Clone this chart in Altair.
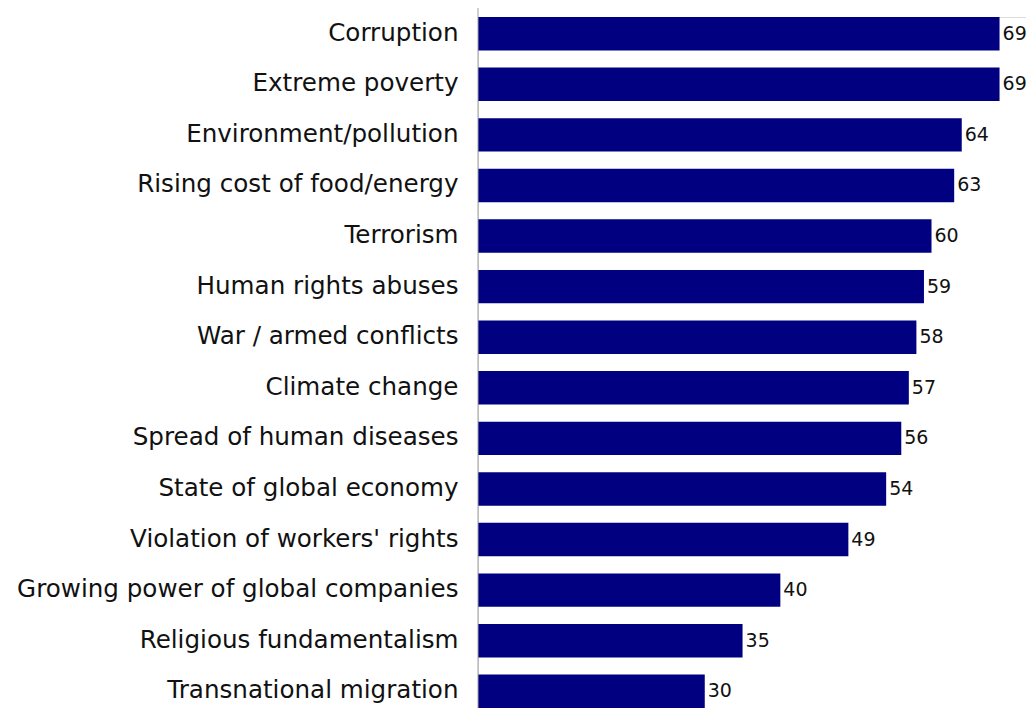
import altair as alt
import pandas as pd

categories = [
    "Corruption",
    "Extreme poverty",
    "Environment/pollution",
    "Rising cost of food/energy",
    "Terrorism",
    "Human rights abuses",
    "War / armed conflicts",
    "Climate change",
    "Spread of human diseases",
    "State of global economy",
    "Violation of workers' rights",
    "Growing power of global companies",
    "Religious fundamentalism",
    "Transnational migration",
]
values = [69, 69, 64, 63, 60, 59, 58, 57, 56, 54, 49, 40, 35, 30]

df = pd.DataFrame({"category": categories, "value": values})

W = 548
H = 691
FONT = "DejaVu Sans"

y_enc = alt.Y(
    "category:N",
    sort=categories,
    scale=alt.Scale(paddingInner=0.34, paddingOuter=0),
    axis=alt.Axis(
        title=None,
        domain=False,
        ticks=False,
        grid=False,
        labelFont=FONT,
        labelFontSize=24.6,
        labelColor="#111111",
        labelPadding=20,
        labelLimit=0,
    ),
)
x_enc = alt.X(
    "value:Q",
    scale=alt.Scale(domain=[0, 72.5], nice=False),
    axis=None,
)

bars = alt.Chart(df).mark_bar(color="#000080").encode(x=x_enc, y=y_enc)

labels = alt.Chart(df).mark_text(
    align="left", baseline="middle", dx=3, font=FONT, fontSize=19, color="#111111"
).encode(x=x_enc, y=y_enc, text="value:Q")

axis_line = alt.Chart(df.head(1)).mark_rule(color="#a0a0a0", strokeWidth=1).encode(
    x=alt.value(0), y=alt.value(-10), y2=alt.value(H)
)

chart = (
    alt.layer(bars, labels, axis_line)
    .properties(
        width=W,
        height=H,
        autosize=alt.AutoSizeParams(type="none"),
        padding={"left": 470, "top": 9, "right": 0, "bottom": 0},
    )
    .configure_view(stroke=None, strokeWidth=0, strokeOpacity=0)
    .configure_axis(grid=False)
    .configure(background="white")
)

chart.save("out.html", embed_options={"renderer": "svg", "actions": False})
